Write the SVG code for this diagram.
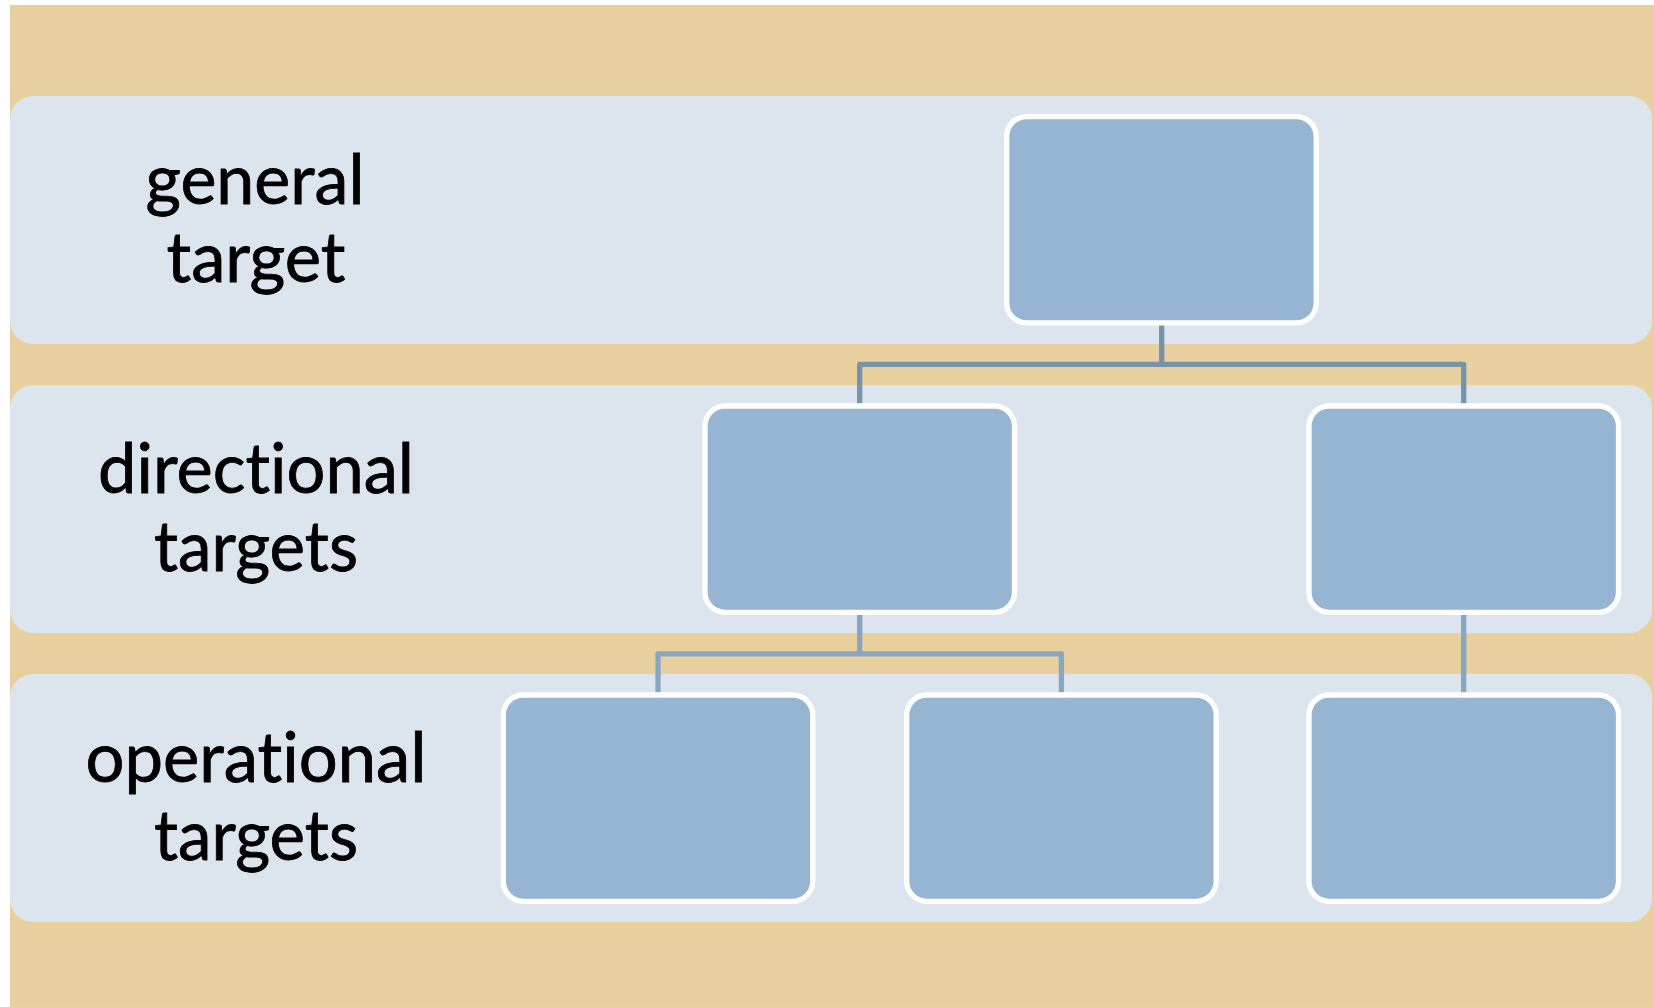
<svg xmlns="http://www.w3.org/2000/svg" width="1654" height="1007" viewBox="0 0 1654 1007">
  <style>
    .band { fill: #DCE4ED; }
    .node { fill: #95B5D2; stroke: #FFFFFF; stroke-width: 5.3; }
    .conn1 { fill: none; stroke: #7892A8; stroke-width: 5.3; stroke-linejoin: round; }
    .conn2 { fill: none; stroke: #88A6BF; stroke-width: 5.3; stroke-linejoin: round; }
    .lbl { font-family: Lato, "Open Sans", "Liberation Sans", sans-serif; font-size: 69px; fill: #000000; stroke: #000000; stroke-width: 0.8; text-anchor: middle; font-variant-ligatures: none; font-feature-settings: "liga" 0, "clig" 0; }
  </style>
  <rect x="0" y="0" width="1654" height="1007" fill="#FFFFFF"/>
  <rect x="10" y="5" width="1644" height="1002" fill="#E7D09E"/>

  <g id="bands">
    <rect class="band" x="10" y="96" width="1642" height="248" rx="23"/>
    <rect class="band" x="10" y="385" width="1642" height="248" rx="23"/>
    <rect class="band" x="10" y="674" width="1642" height="248" rx="23"/>
  </g>

  <g id="labels">
    <g id="label-general">
      <text class="lbl" x="255" y="203.6" textLength="219" lengthAdjust="spacingAndGlyphs">general</text>
      <text class="lbl" x="256" y="281.6" textLength="179" lengthAdjust="spacingAndGlyphs">target</text>
    </g>
    <g id="label-directional">
      <text class="lbl" x="256" y="492.6" textLength="316" lengthAdjust="spacingAndGlyphs">directional</text>
      <text class="lbl" x="256" y="570.7" textLength="204" lengthAdjust="spacingAndGlyphs">targets</text>
    </g>
    <g id="label-operational">
      <text class="lbl" x="256" y="781.6" textLength="341" lengthAdjust="spacingAndGlyphs">operational</text>
      <text class="lbl" x="256" y="859.7" textLength="204" lengthAdjust="spacingAndGlyphs">targets</text>
    </g>
  </g>

  <g id="connectors">
    <path class="conn1" d="M1161.7 325 V364.3"/>
    <path class="conn1" d="M859.7 403.5 V364.3 H1463.7 V403.5"/>
    <path class="conn2" d="M859.7 614.5 V653.8"/>
    <path class="conn2" d="M658 692.5 V653.8 H1061.4 V692.5"/>
    <path class="conn2" d="M1463.7 614.5 V692.5"/>
  </g>

  <g id="node-general">
    <rect class="node" x="1006.7" y="116.6" width="309.5" height="206.3" rx="20"/>
  </g>
  <g id="node-directional-1">
    <rect class="node" x="705" y="406" width="309.5" height="206.3" rx="20"/>
  </g>
  <g id="node-directional-2">
    <rect class="node" x="1309" y="406" width="309.5" height="206.3" rx="20"/>
  </g>
  <g id="node-operational-1">
    <rect class="node" x="503.3" y="695" width="309.5" height="206.3" rx="20"/>
  </g>
  <g id="node-operational-2">
    <rect class="node" x="906.7" y="695" width="309.5" height="206.3" rx="20"/>
  </g>
  <g id="node-operational-3">
    <rect class="node" x="1309" y="695" width="309.5" height="206.3" rx="20"/>
  </g>
</svg>
